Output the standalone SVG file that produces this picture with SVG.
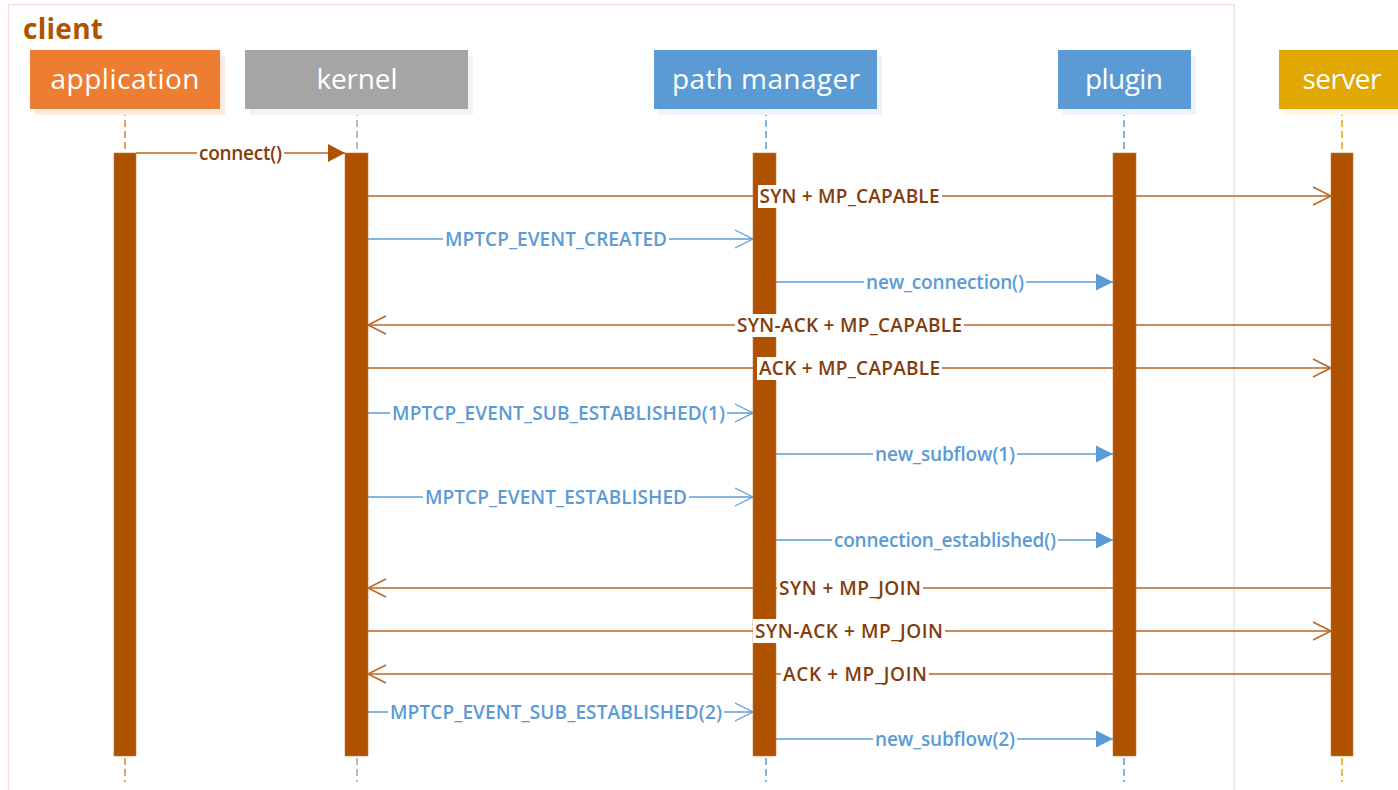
<svg xmlns="http://www.w3.org/2000/svg" width="1398" height="790" viewBox="0 0 1398 790">
<style>
.hdr{font-family:"Open Sans","Noto Sans",sans-serif;font-size:28px;fill:#ffffff;text-anchor:middle}
.lbl{font-family:"Open Sans","Noto Sans",sans-serif;font-size:19px;font-weight:600;text-anchor:middle}
.br{fill:#843C0C}
.bl{fill:#5B9BD5}
.bg{fill:#ffffff}
.bar{fill:#AE5200;stroke:#C07A45;stroke-width:0.6}
.mb{stroke:#BC6522;stroke-width:1.5;fill:none}
.mu{stroke:#5B9BD5;stroke-width:1.3;fill:none}
.ll{stroke-width:1.5;stroke-dasharray:7 4;fill:none}
</style>
<defs>
<marker id="openB" markerUnits="userSpaceOnUse" markerWidth="20" markerHeight="20" refX="18" refY="9" orient="auto" overflow="visible"><path d="M0,0 L18,9 L0,18" fill="none" stroke="#BC6522" stroke-width="1.5"/></marker>
<marker id="openU" markerUnits="userSpaceOnUse" markerWidth="20" markerHeight="20" refX="18" refY="9" orient="auto" overflow="visible"><path d="M0,0 L18,9 L0,18" fill="none" stroke="#5B9BD5" stroke-width="1.3"/></marker>
<marker id="fillU" markerUnits="userSpaceOnUse" markerWidth="20" markerHeight="20" refX="17" refY="8.5" orient="auto" overflow="visible"><path d="M0,0 L17,8.5 L0,17 z" fill="#5B9BD5"/></marker>
<marker id="fillB" markerUnits="userSpaceOnUse" markerWidth="20" markerHeight="20" refX="17" refY="9" orient="auto" overflow="visible"><path d="M0,0 L17,9 L0,18 z" fill="#AE5200"/></marker>
</defs>
<rect x="0" y="0" width="1398" height="790" fill="#ffffff"/>
<g id="client-frame">
<rect x="8.5" y="4.5" width="1225.5" height="800" fill="none" stroke="#F2DAD7" stroke-width="1.2"/>
<text x="63" y="39" textLength="80" style="font-family:'Open Sans','Noto Sans',sans-serif;font-size:28px;font-weight:700;fill:#AE5200;text-anchor:middle">client</text>
</g>
<g id="lifelines">
<line class="ll" x1="125" y1="109" x2="125" y2="782" stroke="#ED7D31"/>
<line class="ll" x1="357" y1="109" x2="357" y2="782" stroke="#A5A5A5"/>
<line class="ll" x1="766" y1="109" x2="766" y2="782" stroke="#5B9BD5"/>
<line class="ll" x1="1124" y1="109" x2="1124" y2="782" stroke="#5B9BD5"/>
<line class="ll" x1="1342" y1="109" x2="1342" y2="782" stroke="#E0A800"/>
</g>
<g id="node-application">
<rect x="35" y="56" width="190" height="59" fill="#FCEBE0"/>
<rect x="30" y="50" width="190" height="59" fill="#ED7D31"/>
<text class="hdr" x="125" y="89" textLength="149">application</text>
</g>
<g id="node-kernel">
<rect x="250" y="56" width="223" height="59" fill="#F3F3F3"/>
<rect x="245" y="50" width="223" height="59" fill="#A5A5A5"/>
<text class="hdr" x="357" y="89" textLength="81">kernel</text>
</g>
<g id="node-path-manager">
<rect x="659" y="56" width="223" height="59" fill="#EDF3FA"/>
<rect x="654" y="50" width="223" height="59" fill="#5B9BD5"/>
<text class="hdr" x="766" y="89" textLength="188">path manager</text>
</g>
<g id="node-plugin">
<rect x="1063" y="56" width="133" height="59" fill="#EDF3FA"/>
<rect x="1058" y="50" width="133" height="59" fill="#5B9BD5"/>
<text class="hdr" x="1124" y="89" textLength="78">plugin</text>
</g>
<g id="node-server">
<rect x="1284" y="56" width="126" height="59" fill="#FFF7E3"/>
<rect x="1279" y="50" width="126" height="59" fill="#E0A800"/>
<text class="hdr" x="1342" y="89" textLength="79">server</text>
</g>
<g id="connectors">
<line class="mb" x1="136" y1="153" x2="345" y2="153" marker-end="url(#fillB)"/>
<line class="mb" x1="368" y1="196" x2="1331" y2="196" marker-end="url(#openB)"/>
<line class="mu" x1="368" y1="239" x2="753" y2="239" marker-end="url(#openU)"/>
<line class="mu" x1="776" y1="282" x2="1113" y2="282" marker-end="url(#fillU)"/>
<line class="mb" x1="1331" y1="325" x2="368" y2="325" marker-end="url(#openB)"/>
<line class="mb" x1="368" y1="368" x2="1331" y2="368" marker-end="url(#openB)"/>
<line class="mu" x1="368" y1="413" x2="753" y2="413" marker-end="url(#openU)"/>
<line class="mu" x1="776" y1="454" x2="1113" y2="454" marker-end="url(#fillU)"/>
<line class="mu" x1="368" y1="497" x2="753" y2="497" marker-end="url(#openU)"/>
<line class="mu" x1="776" y1="540" x2="1113" y2="540" marker-end="url(#fillU)"/>
<line class="mb" x1="1331" y1="588" x2="368" y2="588" marker-end="url(#openB)"/>
<line class="mb" x1="368" y1="631" x2="1331" y2="631" marker-end="url(#openB)"/>
<line class="mb" x1="1331" y1="674" x2="368" y2="674" marker-end="url(#openB)"/>
<line class="mu" x1="368" y1="712" x2="753" y2="712" marker-end="url(#openU)"/>
<line class="mu" x1="776" y1="739" x2="1113" y2="739" marker-end="url(#fillU)"/>
</g>
<g id="activations">
<rect class="bar" x="114" y="153" width="22" height="603"/>
<rect class="bar" x="345" y="153" width="23" height="603"/>
<rect class="bar" x="753" y="153" width="23" height="603"/>
<rect class="bar" x="1113" y="153" width="23" height="603"/>
<rect class="bar" x="1331" y="153" width="22" height="603"/>
</g>
<g id="labels">
<rect class="bg" x="197" y="142" width="87" height="23"/>
<text class="lbl br" x="240.5" y="160" textLength="83">connect()</text>
<rect class="bg" x="758" y="185" width="184" height="23"/>
<text class="lbl br" x="849.5" y="203" textLength="180">SYN + MP_CAPABLE</text>
<rect class="bg" x="443" y="228" width="226" height="23"/>
<text class="lbl bl" x="556" y="246" textLength="222">MPTCP_EVENT_CREATED</text>
<rect class="bg" x="864" y="271" width="162" height="23"/>
<text class="lbl bl" x="945" y="289" textLength="158">new_connection()</text>
<rect class="bg" x="735" y="314" width="229" height="23"/>
<text class="lbl br" x="849.5" y="332" textLength="225">SYN-ACK + MP_CAPABLE</text>
<rect class="bg" x="757" y="357" width="185" height="23"/>
<text class="lbl br" x="849.5" y="375" textLength="181">ACK + MP_CAPABLE</text>
<rect class="bg" x="390" y="402" width="337" height="23"/>
<text class="lbl bl" x="558.5" y="420" textLength="333">MPTCP_EVENT_SUB_ESTABLISHED(1)</text>
<rect class="bg" x="873" y="443" width="144" height="23"/>
<text class="lbl bl" x="945" y="461" textLength="140">new_subflow(1)</text>
<rect class="bg" x="423" y="486" width="266" height="23"/>
<text class="lbl bl" x="556" y="504" textLength="262">MPTCP_EVENT_ESTABLISHED</text>
<rect class="bg" x="832" y="529" width="226" height="23"/>
<text class="lbl bl" x="945" y="547" textLength="222">connection_established()</text>
<rect class="bg" x="777" y="577" width="146" height="23"/>
<text class="lbl br" x="850" y="595" textLength="142">SYN + MP_JOIN</text>
<rect class="bg" x="753" y="619" width="192" height="24"/>
<text class="lbl br" x="849" y="638" textLength="188">SYN-ACK + MP_JOIN</text>
<rect class="bg" x="781" y="663" width="148" height="23"/>
<text class="lbl br" x="855" y="681" textLength="144">ACK + MP_JOIN</text>
<rect class="bg" x="388" y="701" width="336" height="23"/>
<text class="lbl bl" x="556" y="719" textLength="332">MPTCP_EVENT_SUB_ESTABLISHED(2)</text>
<rect class="bg" x="873" y="728" width="144" height="23"/>
<text class="lbl bl" x="945" y="746" textLength="140">new_subflow(2)</text>
</g>
</svg>
